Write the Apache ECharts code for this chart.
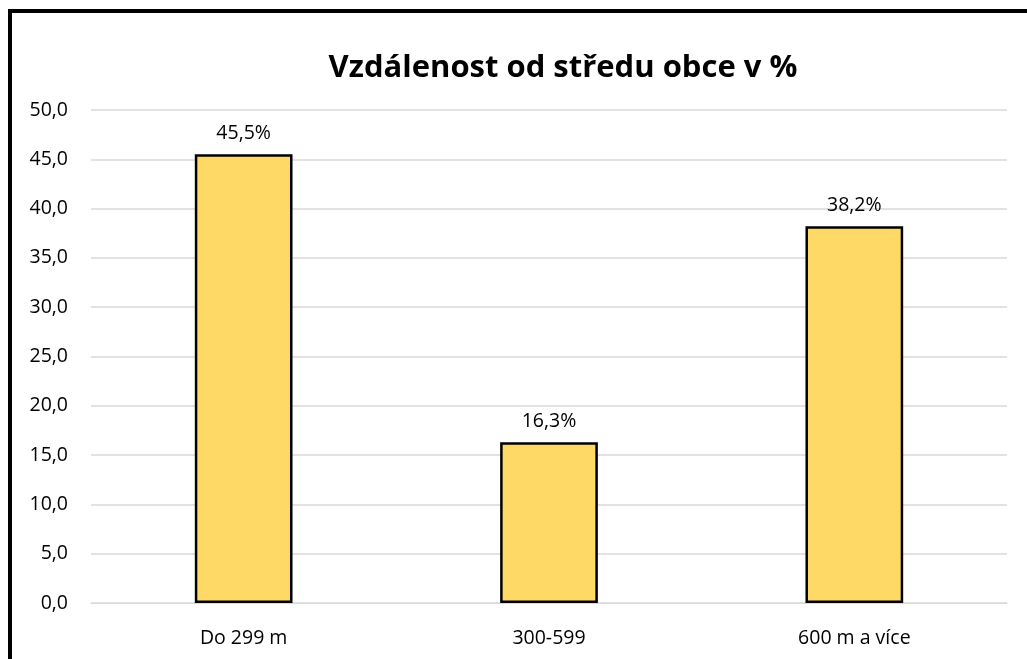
<!DOCTYPE html>
<html>
<head>
<meta charset="utf-8">
<script src="https://cdn.jsdelivr.net/npm/echarts@6/dist/echarts.min.js"></script>
<style>
  html, body { margin: 0; padding: 0; background: #fff; overflow: hidden; }
  #frame { position: absolute; left: 8px; top: 9px; width: 1100px; height: 700px;
           border-left: 4px solid #000; border-top: 4px solid #000; box-sizing: border-box; }
  #chart { position: absolute; left: 0; top: 0; width: 1027px; height: 659px; }
</style>
</head>
<body>
<div id="frame"></div>
<div id="chart"></div>
<script>
const categories = ['Do 299 m', '300-599', '600 m a více'];
const values = [45.5, 16.3, 38.2];
const title = 'Vzdálenost od středu obce v %';

const fmt = v => v.toFixed(1).replace('.', ',');

const chart = echarts.init(document.getElementById('chart'));
chart.setOption({
    animation: false,
    textStyle: { fontFamily: 'Open Sans' },
    title: {
        text: title,
        left: 558,
        textAlign: 'center',
        top: 48,
        textStyle: { fontSize: 31, fontWeight: 'bold', color: '#000', fontFamily: 'Open Sans' }
    },
    grid: { left: 91, right: 20, top: 110, bottom: 56 },
    xAxis: {
        type: 'category',
        data: categories,
        axisLine: { lineStyle: { color: '#d9d9d9', width: 1 } },
        axisTick: { show: false },
        axisLabel: { color: '#000', fontSize: 19.5, margin: 25 }
    },
    yAxis: {
        type: 'value',
        min: 0,
        max: 50,
        interval: 5,
        axisLine: { show: false },
        axisTick: { show: false },
        splitLine: { lineStyle: { color: '#d9d9d9', width: 1.5 } },
        axisLabel: { color: '#000', fontSize: 19.5, margin: 23, formatter: fmt }
    },
    series: [{
        type: 'bar',
        data: values,
        barWidth: '32%',
        itemStyle: { color: '#ffd966', borderColor: '#000', borderWidth: 2.5 },
        label: {
            show: true,
            position: 'top',
            distance: 11,
            color: '#000',
            fontSize: 19.5,
            formatter: p => fmt(p.value) + '%'
        }
    }]
});
</script>
</body>
</html>
